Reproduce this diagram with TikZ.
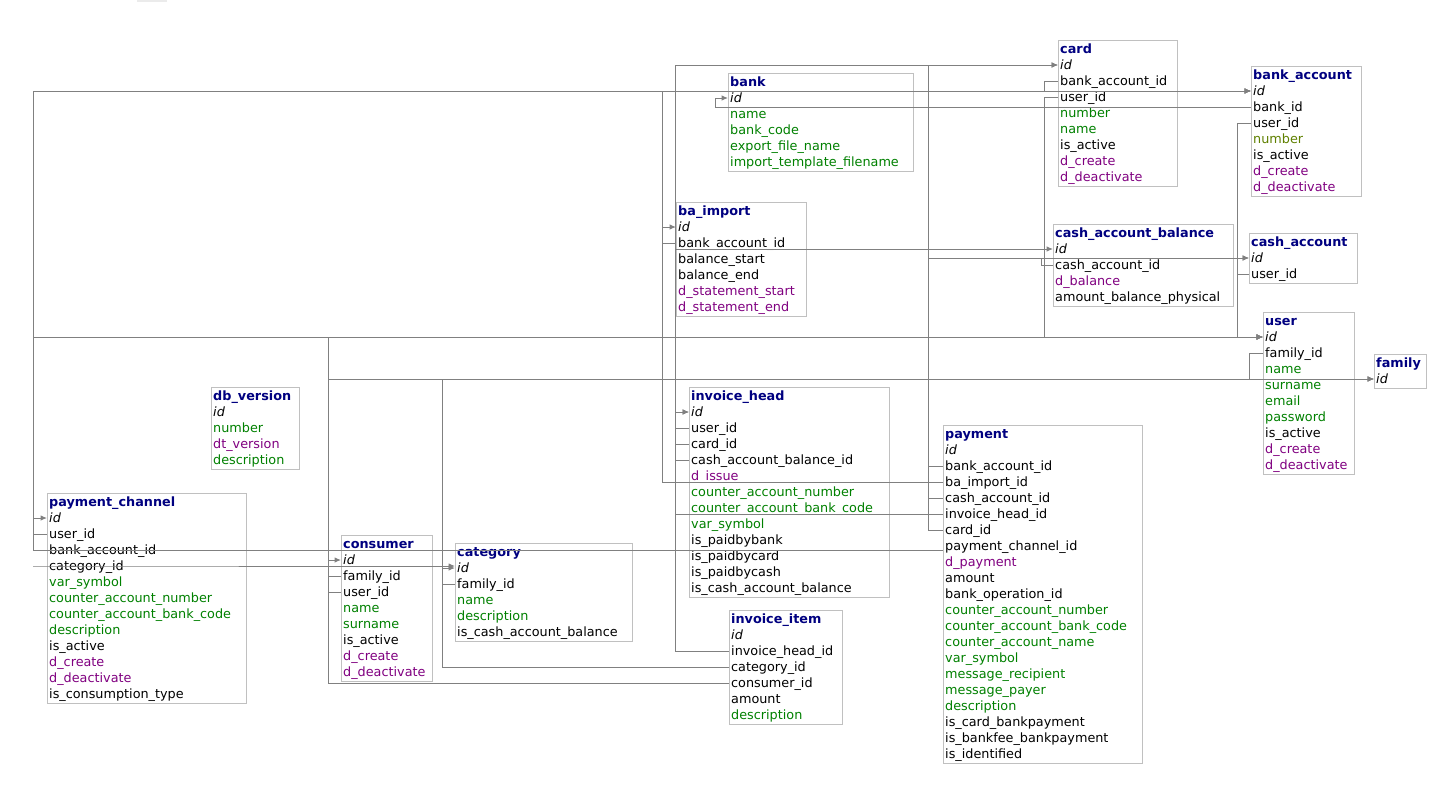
\documentclass[tikz,border=0pt]{standalone}
\usepackage{fontspec}
\setmainfont{DejaVu Sans}
\usepackage{tikz}
\usetikzlibrary{arrows.meta}

\definecolor{hdrblue}{HTML}{000080}
\definecolor{fldgreen}{HTML}{008000}
\definecolor{fldolive}{HTML}{5F8000}
\definecolor{fldpurple}{HTML}{800080}
\definecolor{wire}{HTML}{808080}
\definecolor{boxline}{HTML}{C0C0C0}

% table: name, x, top, width, rows, fields
\newcommand{\dbtable}[6]{%
  \draw[tblframe] (#2,#3) rectangle ++(#4,{16*#5+2});
  \foreach \fs/\ftxt [count=\k from 0] in {#6} {
    \node[\fs] (#1-\k) at (#2,{#3+9+16*\k}) {\ftxt};
  }%
}

\begin{document}
\begin{tikzpicture}[x=1pt,y=-1pt,
    tblframe/.style={draw=boxline,line width=1pt},
    row/.style={anchor=west,inner xsep=2pt,inner ysep=0pt,text height=10pt,text depth=2pt,font=\fontsize{12.8}{16}\selectfont},
    hd/.style={row,text=hdrblue,font=\fontsize{12.8}{16}\selectfont\bfseries},
    pk/.style={row,font=\fontsize{12.8}{16}\selectfont\itshape},
    fd/.style={row},
    gr/.style={row,text=fldgreen},
    ol/.style={row,text=fldolive},
    dt/.style={row,text=fldpurple},
    fk/.style={draw=wire,line width=1pt,-{Latex[length=6.5pt,width=5.5pt]}}]
\useasboundingbox (0,0) rectangle (1443,795);
\fill[black!8] (137,0) rectangle (167,2);

% tables
\dbtable{bank}{728}{73}{185}{6}{hd/bank, pk/id, gr/name, gr/bank\_code, gr/export\_file\_name, gr/import\_template\_filename}
\dbtable{card}{1058}{40}{119}{9}{hd/card, pk/id, fd/bank\_account\_id, fd/user\_id, gr/number, gr/name, fd/is\_active, dt/d\_create, dt/d\_deactivate}
\dbtable{bacc}{1251}{66}{110}{8}{hd/bank\_account, pk/id, fd/bank\_id, fd/user\_id, ol/number, fd/is\_active, dt/d\_create, dt/d\_deactivate}
\dbtable{baimp}{676}{202}{130}{7}{hd/ba\_import, pk/id, fd/bank\_account\_id, fd/balance\_start, fd/balance\_end, dt/d\_statement\_start, dt/d\_statement\_end}
\dbtable{cab}{1053}{224}{180}{5}{hd/cash\_account\_balance, pk/id, fd/cash\_account\_id, dt/d\_balance, fd/amount\_balance\_physical}
\dbtable{cacc}{1249}{233}{108}{3}{hd/cash\_account, pk/id, fd/user\_id}
\dbtable{user}{1263}{312}{91}{10}{hd/user, pk/id, fd/family\_id, gr/name, gr/surname, gr/email, gr/password, fd/is\_active, dt/d\_create, dt/d\_deactivate}
\dbtable{family}{1374}{354}{52}{2}{hd/family, pk/id}
\dbtable{dbv}{211}{387}{88}{5}{hd/db\_version, pk/id, gr/number, dt/dt\_version, gr/description}
\dbtable{ihead}{689}{387}{200}{13}{hd/invoice\_head, pk/id, fd/user\_id, fd/card\_id, fd/cash\_account\_balance\_id, dt/d\_issue, gr/counter\_account\_number, gr/counter\_account\_bank\_code, gr/var\_symbol, fd/is\_paidbybank, fd/is\_paidbycard, fd/is\_paidbycash, fd/is\_cash\_account\_balance}
\dbtable{pay}{943}{425}{199}{21}{hd/payment, pk/id, fd/bank\_account\_id, fd/ba\_import\_id, fd/cash\_account\_id, fd/invoice\_head\_id, fd/card\_id, fd/payment\_channel\_id, dt/d\_payment, fd/amount, fd/bank\_operation\_id, gr/counter\_account\_number, gr/counter\_account\_bank\_code, gr/counter\_account\_name, gr/var\_symbol, gr/message\_recipient, gr/message\_payer, gr/description, fd/is\_card\_bankpayment, fd/is\_bankfee\_bankpayment, fd/is\_identified}
\dbtable{pch}{47}{493}{199}{13}{hd/payment\_channel, pk/id, fd/user\_id, fd/bank\_account\_id, fd/category\_id, gr/var\_symbol, gr/counter\_account\_number, gr/counter\_account\_bank\_code, gr/description, fd/is\_active, dt/d\_create, dt/d\_deactivate, fd/is\_consumption\_type}
\dbtable{cons}{341}{535}{91}{9}{hd/consumer, pk/id, fd/family\_id, fd/user\_id, gr/name, gr/surname, fd/is\_active, dt/d\_create, dt/d\_deactivate}
\dbtable{cat}{455}{543}{177}{6}{hd/category, pk/id, fd/family\_id, gr/name, gr/description, fd/is\_cash\_account\_balance}
\dbtable{iitem}{729}{610}{113}{7}{hd/invoice\_item, pk/id, fd/invoice\_head\_id, fd/category\_id, fd/consumer\_id, fd/amount, gr/description}

% vertical trunks
\coordinate (busA) at (33,0);
\coordinate (busB) at (328,0);
\coordinate (busC) at (442,0);
\coordinate (busD) at (662,0);
\coordinate (busE) at (675,0);
\coordinate (busF) at (715,0);
\coordinate (busG) at (928,0);
\coordinate (busH) at (1041,0);
\coordinate (busI) at (1044,0);
\coordinate (busJ) at (1237,0);
\coordinate (busK) at (1249,0);

% payment_channel
\draw[fk] (pch-3.west) -- (pch-3.west -| busA) |- (bacc-1.west);
\draw[fk] (pch-2.west) -- (pch-2.west -| busA) |- (user-1.west);
\draw[fk] (pay-7.west |- pch-3.west) -- (pch-3.west -| busA) |- (pch-1.west);
\draw[fk] (pch-4.west) -- (pch-4.west -| busA) -- (pch-4.west -| cat-1.west);
% consumer
\draw[fk] (cons-3.west) -- (cons-3.west -| busB) |- (user-1.west);
\draw[fk] (cons-2.west) -- (cons-2.west -| busB) |- (family-1.west);
\draw[fk] (iitem-4.west) -- (iitem-4.west -| busB) |- (cons-1.west);
% category
\draw[fk] (cat-2.west) -- (cat-2.west -| busC) |- (family-1.west);
\draw[fk] (iitem-3.west) -- (iitem-3.west -| busC) |- (cat-1.west);
% ba_import
\draw[fk] (baimp-2.west) -- (baimp-2.west -| busD) |- (bacc-1.west);
\draw[fk] (pay-3.west) -- (pay-3.west -| busD) |- (baimp-1.west);
% invoice_head
\draw[fk] (ihead-3.west) -- (ihead-3.west -| busE) |- (card-1.west);
\draw[fk] (ihead-2.west) -- (ihead-2.west -| busE) |- (user-1.west);
\draw[fk] (ihead-4.west) -- (ihead-4.west -| busE) |- (cab-1.west);
\draw[fk] (iitem-2.west) -- (iitem-2.west -| busE) |- (ihead-1.west);
\draw[fk] (pay-5.west) -- (pay-5.west -| busE) |- (ihead-1.west);
% bank
\draw[fk] (bacc-2.west) -- (bacc-2.west -| busF) |- (bank-1.west);
% payment
\draw[fk] (pay-6.west) -- (pay-6.west -| busG) |- (card-1.west);
\draw[fk] (pay-2.west) -- (pay-2.west -| busG) |- (bacc-1.west);
\draw[fk] (pay-4.west) -- (pay-4.west -| busG) |- (cacc-1.west);
% cash_account_balance
\draw[fk] (cab-2.west) -- (cab-2.west -| busH) |- (cacc-1.west);
% card
\draw[fk] (card-2.west) -- (card-2.west -| busI) |- (bacc-1.west);
\draw[fk] (card-3.west) -- (card-3.west -| busI) |- (user-1.west);
% bank_account, cash_account, user
\draw[fk] (bacc-3.west) -- (bacc-3.west -| busJ) |- (user-1.west);
\draw[fk] (cacc-2.west) -- (cacc-2.west -| busJ) |- (user-1.west);
\draw[fk] (user-2.west) -- (user-2.west -| busK) |- (family-1.west);
\end{tikzpicture}
\end{document}
